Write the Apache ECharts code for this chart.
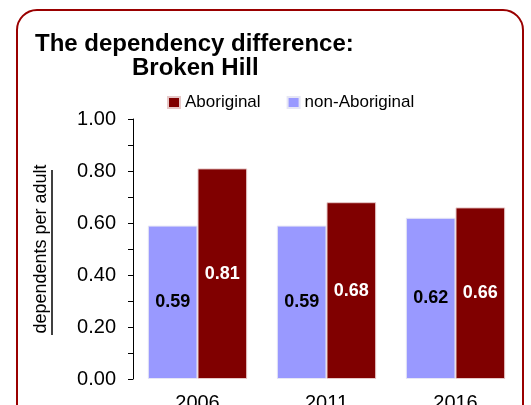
<!DOCTYPE html>
<html><head><meta charset="utf-8">
<script src="https://cdn.jsdelivr.net/npm/echarts@6/dist/echarts.min.js"></script>
<style>html,body{margin:0;padding:0;background:#fff}#c{width:531px;height:405px}</style>
</head><body><div id="c"></div>
<script>
var categories = ['2006', '2011', '2016'];
var nonAboriginal = [0.59, 0.59, 0.62];
var aboriginal = [0.81, 0.68, 0.66];
var seriesNames = ['non-Aboriginal', 'Aboriginal'];
var legendOrder = ['Aboriginal', 'non-Aboriginal'];
var titleLine1 = 'The dependency difference:';
var titleLine2 = 'Broken Hill';
var yAxisName = 'dependents per adult';

var font = 'Liberation Sans, Arial, sans-serif';
var chart = echarts.init(document.getElementById('c'));
chart.setOption({
  animation: false,
  title: [
    {text: titleLine1, left: 30, top: 27, textStyle: {fontFamily: font, fontSize: 24, fontWeight: 'bold', color: '#000'}},
    {text: titleLine2, left: 127, top: 51, textStyle: {fontFamily: font, fontSize: 24, fontWeight: 'bold', color: '#000'}}
  ],
  legend: {
    data: legendOrder, left: 162, top: 89, itemWidth: 12, itemHeight: 11, itemGap: 26,
    icon: 'rect',
    textStyle: {fontFamily: font, fontSize: 17, color: '#000'}
  },
  grid: {left: 133, right: 11, top: 119, bottom: 26, containLabel: false, outerBoundsMode: 'none'},
  xAxis: {
    type: 'category', data: categories,
    axisLine: {show: false}, axisTick: {show: false},
    axisLabel: {fontFamily: font, fontSize: 20, color: '#000', margin: 14}
  },
  yAxis: {
    type: 'value', min: 0, max: 1, interval: 0.2,
    name: yAxisName, nameLocation: 'middle', nameGap: 83, nameRotate: 90,
    nameTextStyle: {fontFamily: font, fontSize: 18, color: '#000'},
    axisLine: {show: true, lineStyle: {color: '#000', width: 1}},
    axisTick: {show: true, length: 5, lineStyle: {color: '#000'}},
    minorTick: {show: true, splitNumber: 2, length: 5, lineStyle: {color: '#000'}},
    splitLine: {show: false},
    axisLabel: {fontFamily: font, fontSize: 20, color: '#000', margin: 17, formatter: function(v){return v.toFixed(2);}}
  },
  series: [
    {name: seriesNames[0], type: 'bar', data: nonAboriginal, barGap: '0%', barCategoryGap: '23%',
     itemStyle: {color: '#9999FF', borderColor: '#e6e6f5', borderWidth: 1},
     label: {show: true, position: 'inside', fontFamily: font, fontSize: 18, fontWeight: 'bold', color: '#000', formatter: function(p){return p.value.toFixed(2);}}},
    {name: seriesNames[1], type: 'bar', data: aboriginal,
     itemStyle: {color: '#800000', borderColor: '#e6c8c8', borderWidth: 1},
     label: {show: true, position: 'inside', fontFamily: font, fontSize: 18, fontWeight: 'bold', color: '#fff', formatter: function(p){return p.value.toFixed(2);}}}
  ],
  graphic: [
    {type: 'rect', shape: {x: 17, y: 10, width: 506, height: 430, r: 20}, style: {fill: 'none', stroke: '#9A0000', lineWidth: 2}, z: 100},
    {type: 'line', shape: {x1: 52, y1: 170, x2: 52, y2: 335}, style: {stroke: '#000', lineWidth: 1.5}, z: 100}
  ]
});
</script></body></html>
